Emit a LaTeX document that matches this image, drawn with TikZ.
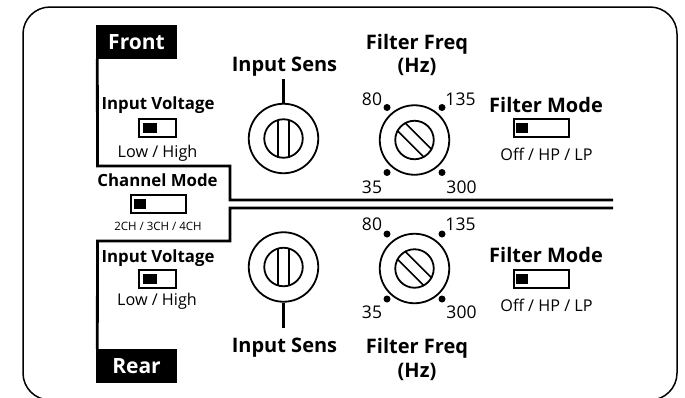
\documentclass[tikz,border=0pt]{standalone}
\usepackage{fontspec}
\setmainfont{Open Sans}
\begin{document}
\begin{tikzpicture}[x=1pt, y=-1pt,
        panel/.style={line width=1.5pt, rounded corners=27pt},
        divider/.style={line width=2.8pt},
        tag/.style={fill=black, text=white, inner sep=0pt, minimum width=81pt, minimum height=34pt, font=\bfseries\fontsize{21}{21}\selectfont},
        heading/.style={anchor=base, inner sep=0pt, font=\bfseries\fontsize{20}{20}\selectfont},
        subheading/.style={anchor=base, inner sep=0pt, font=\bfseries\fontsize{16.8}{16.8}\selectfont},
        caption/.style={anchor=base, inner sep=0pt, font=\fontsize{16.2}{16.2}\selectfont},
        tiny/.style={anchor=base, inner sep=0pt, font=\fontsize{11.5}{11.5}\selectfont},
        num/.style={anchor=base, inner sep=0pt, font=\fontsize{17.5}{17.5}\selectfont},
        switchbox/.style={draw, line width=2pt, inner sep=0pt, minimum height=18pt},
        lever/.style={fill=black, inner sep=0pt, minimum height=10pt, anchor=west},
        knob/.style={draw, circle, line width=1.8pt, inner sep=0pt, minimum size=69.5pt},
        knobcap/.style={draw, circle, line width=1.8pt, inner sep=0pt, minimum size=38.5pt},
        slot/.style={line width=1.5pt},
        stem/.style={line width=3.2pt},
        dot/.style={fill=black, circle, inner sep=0pt, minimum size=7pt}
    ]
        \useasboundingbox (0,0) rectangle (685,397);
        \fill[white] (0,0) rectangle (685,397);
        \clip (0,0) rectangle (685,397);
        \draw[panel] (23,7) rectangle (677,400);

        % front / rear tags and divider
        \node[tag] (front) at (136.5,42) {Front};
        \node[tag] (rear) at (136.5,366) {Rear};
        \coordinate (upA) at (97.5,166);
        \coordinate (upB) at (230,166);
        \coordinate (upC) at (230,200);
        \coordinate (upD) at (613,200);
        \coordinate (loA) at (613,208);
        \coordinate (loB) at (230,208);
        \coordinate (loC) at (230,241);
        \coordinate (loD) at (97.5,241);
        \draw[divider] ([xshift=1.5pt]front.south west) -- (upA) -- (upB) -- (upC) -- (upD);
        \draw[divider] (loA) -- (loB) -- (loC) -- (loD) -- ([xshift=1.5pt]rear.north west);

        % input voltage, front
        \node[subheading] (fvolt) at (158,109) {Input Voltage};
        \node[switchbox, minimum width=37pt] (fvoltsw) at (157.5,127.5) {};
        \node[lever, minimum width=14pt] (fvoltlv) at ([xshift=5pt]fvoltsw.west) {};
        \node[caption] (fvoltlb) at (157.5,157) {Low / High};

        % channel mode
        \node[subheading] (chan) at (157.5,186) {Channel Mode};
        \node[switchbox, minimum width=55pt] (chansw) at (158.5,203.5) {};
        \node[lever, minimum width=12pt] (chanlv) at ([xshift=3.5pt]chansw.west) {};
        \node[tiny] (chanlb) at (158,230) {2CH / 3CH / 4CH};

        % input voltage, rear
        \node[subheading] (rvolt) at (158,262) {Input Voltage};
        \node[switchbox, minimum width=37pt] (rvoltsw) at (157.5,279) {};
        \node[lever, minimum width=14pt] (rvoltlv) at ([xshift=5pt]rvoltsw.west) {};
        \node[caption] (rvoltlb) at (157,305) {Low / High};

        % input sens knobs
        \node[heading] (fsens) at (284.5,71) {Input Sens};
        \node[knob] (fsensk) at (283.5,138.5) {};
        \node[knobcap] (fsensc) at (283.5,138.5) {};
        \coordinate (fsenst) at (283.5,79);
        \draw[stem] (fsensk.north) -- (fsenst);
        \draw[slot] ([shift={(-5.5,-19)}]fsensc.center) -- ([shift={(-5.5,19)}]fsensc.center);
        \draw[slot] ([shift={(5.5,-19)}]fsensc.center) -- ([shift={(5.5,19)}]fsensc.center);

        \node[heading] (rsens) at (284.5,352) {Input Sens};
        \node[knob] (rsensk) at (283.5,267) {};
        \node[knobcap] (rsensc) at (283.5,267) {};
        \coordinate (rsensb) at (283.5,328);
        \draw[stem] (rsensk.south) -- (rsensb);
        \draw[slot] ([shift={(-5.5,-19)}]rsensc.center) -- ([shift={(-5.5,19)}]rsensc.center);
        \draw[slot] ([shift={(5.5,-19)}]rsensc.center) -- ([shift={(5.5,19)}]rsensc.center);

        % filter freq knobs
        \node[heading] (ffreq) at (417,49) {Filter Freq};
        \node[heading] (ffreqhz) at (417,72) {(Hz)};
        \node[knob] (ffreqk) at (414.5,140) {};
        \node[knobcap] (ffreqc) at (414.5,140) {};
        \draw[slot] ([shift={(-9.7,-17.5)}]ffreqc.center) -- ([shift={(17.5,9.7)}]ffreqc.center);
        \draw[slot] ([shift={(-17.5,-9.7)}]ffreqc.center) -- ([shift={(9.7,17.5)}]ffreqc.center);
        \node[dot] (fd80) at (387,107.5) {};
        \node[dot] (fd135) at (442,107.5) {};
        \node[dot] (fd35) at (387,172.5) {};
        \node[dot] (fd300) at (442,172.5) {};
        \node[num] (fn80) at (372,105) {80};
        \node[num] (fn135) at (460.5,105) {135};
        \node[num] (fn35) at (372,193) {35};
        \node[num] (fn300) at (461.5,193) {300};

        \node[heading] (rfreq) at (417,353) {Filter Freq};
        \node[heading] (rfreqhz) at (417,377) {(Hz)};
        \node[knob] (rfreqk) at (414.5,268.5) {};
        \node[knobcap] (rfreqc) at (414.5,268.5) {};
        \draw[slot] ([shift={(-9.7,-17.5)}]rfreqc.center) -- ([shift={(17.5,9.7)}]rfreqc.center);
        \draw[slot] ([shift={(-17.5,-9.7)}]rfreqc.center) -- ([shift={(9.7,17.5)}]rfreqc.center);
        \node[dot] (rd80) at (387,234) {};
        \node[dot] (rd135) at (442,234) {};
        \node[dot] (rd35) at (387,299) {};
        \node[dot] (rd300) at (442,299) {};
        \node[num] (rn80) at (372,230) {80};
        \node[num] (rn135) at (460.5,230) {135};
        \node[num] (rn35) at (372,318) {35};
        \node[num] (rn300) at (461.5,318) {300};

        % filter mode switches
        \node[heading] (fmode) at (546,112) {Filter Mode};
        \node[switchbox, minimum width=55pt] (fmodesw) at (541.5,128) {};
        \node[lever, minimum width=12pt] (fmodelv) at ([xshift=3pt]fmodesw.west) {};
        \node[caption] (fmodelb) at (546.5,160) {Off / HP / LP};

        \node[heading] (rmode) at (546,262) {Filter Mode};
        \node[switchbox, minimum width=55pt] (rmodesw) at (541.5,279) {};
        \node[lever, minimum width=12pt] (rmodelv) at ([xshift=3pt]rmodesw.west) {};
        \node[caption] (rmodelb) at (546.5,311) {Off / HP / LP};
    \end{tikzpicture}
\end{document}
